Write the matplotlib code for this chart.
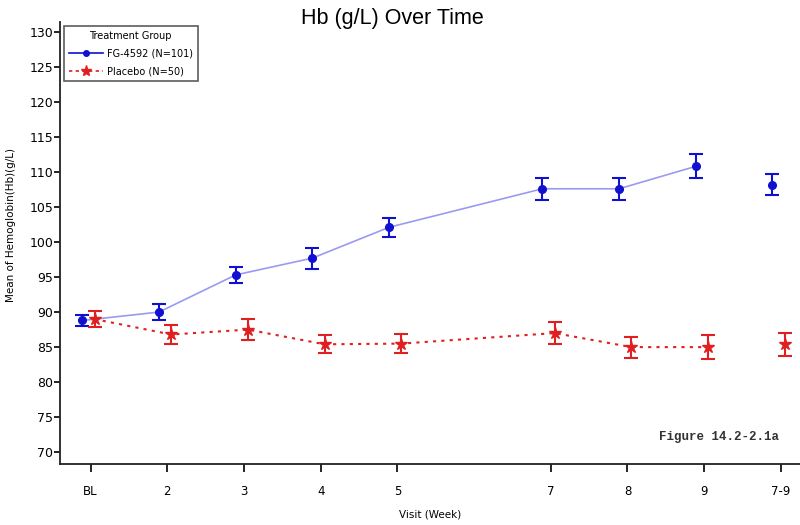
import matplotlib
matplotlib.use("Agg")
import matplotlib.pyplot as plt
import numpy as np
from matplotlib.lines import Line2D

visits = ["BL", "2", "3", "4", "5", "7", "8", "9", "7-9"]
visit_pos = [1, 2, 3, 4, 5, 7, 8, 9, 10]

fg_mean = [88.8, 90.0, 95.3, 97.7, 102.1, 107.6, 107.6, 110.8, 108.2]
fg_err = [0.8, 1.2, 1.15, 1.5, 1.4, 1.6, 1.6, 1.7, 1.55]
pl_mean = [89.0, 86.8, 87.5, 85.4, 85.5, 87.0, 85.0, 85.0, 85.4]
pl_err = [1.15, 1.3, 1.5, 1.3, 1.4, 1.6, 1.5, 1.75, 1.6]

fg_label = "FG-4592 (N=101)"
pl_label = "Placebo (N=50)"

plt.rcParams['font.family'] = ['DejaVu Sans']

fig = plt.figure(figsize=(8, 5.25), dpi=100)
ax = fig.add_axes([0.075, 0.116, 0.925, 0.842])

x_fg = np.array(visit_pos) - 0.11
x_pl = np.array(visit_pos) + 0.05

blue = "#1010d0"
red = "#e02020"

ax.plot(x_fg[:-1], fg_mean[:-1], color="#9a9af0", lw=1.2, zorder=2)
ax.plot(x_pl[:-1], pl_mean[:-1], color=red, lw=1.5, ls=(0, (1.5, 2.5)), zorder=2)

ax.errorbar(x_fg, fg_mean, yerr=fg_err, fmt='o', color=blue, ms=5.5,
            capsize=5, elinewidth=1.5, capthick=1.5, zorder=3)
ax.errorbar(x_pl, pl_mean, yerr=pl_err, fmt='*', color=red, ms=9,
            capsize=5, elinewidth=1.5, capthick=1.5, zorder=3)

h1 = Line2D([], [], color=blue, lw=1.2, marker='o', ms=4)
h2 = Line2D([], [], color=red, lw=1.2, ls=(0, (2, 2)), marker='*', ms=8)
leg = ax.legend([h1, h2], [fg_label, pl_label], title="Treatment Group",
                loc="upper left", bbox_to_anchor=(0.0, 1.0), borderaxespad=0.4,
                fontsize=7, title_fontsize=7, frameon=True, fancybox=False,
                edgecolor="#333333", borderpad=0.5, labelspacing=0.8,
                handlelength=3.5, handletextpad=0.4)
leg.get_frame().set_linewidth(1.2)

ax.set_xlim(0.6, 10.25)
ax.set_ylim(68.3, 131.4)
ax.set_xticks(visit_pos)
ax.set_xticklabels(visits, fontsize=8.5)
ax.set_yticks(np.arange(70, 131, 5))
ax.tick_params(axis='y', labelsize=9, length=4, width=1.2, direction='out', pad=1)
ax.tick_params(axis='x', length=6, width=1.2, direction='out', pad=9)

for s in ['top', 'right']:
    ax.spines[s].set_visible(False)
for s in ['left', 'bottom']:
    ax.spines[s].set_linewidth(1.3)
    ax.spines[s].set_color("#222222")

ax.set_xlabel("Visit (Week)", fontsize=7.5, labelpad=8)
ax.set_ylabel("Mean of Hemoglobin(Hb)(g/L)", fontsize=7.5)
ax.yaxis.set_label_coords(-0.06, 0.54)

fig.text(0.49, 0.965, "Hb (g/L) Over Time", fontsize=15.5, ha='center', va='center',
         family=['Liberation Sans', 'DejaVu Sans'])
ax.text(0.972, 0.062, "Figure 14.2-2.1a", transform=ax.transAxes, ha='right',
        va='center', fontsize=9, family=['Liberation Mono', 'DejaVu Sans Mono'],
        fontweight='bold', color="#333333")

fig.savefig("out.png", dpi=100)
